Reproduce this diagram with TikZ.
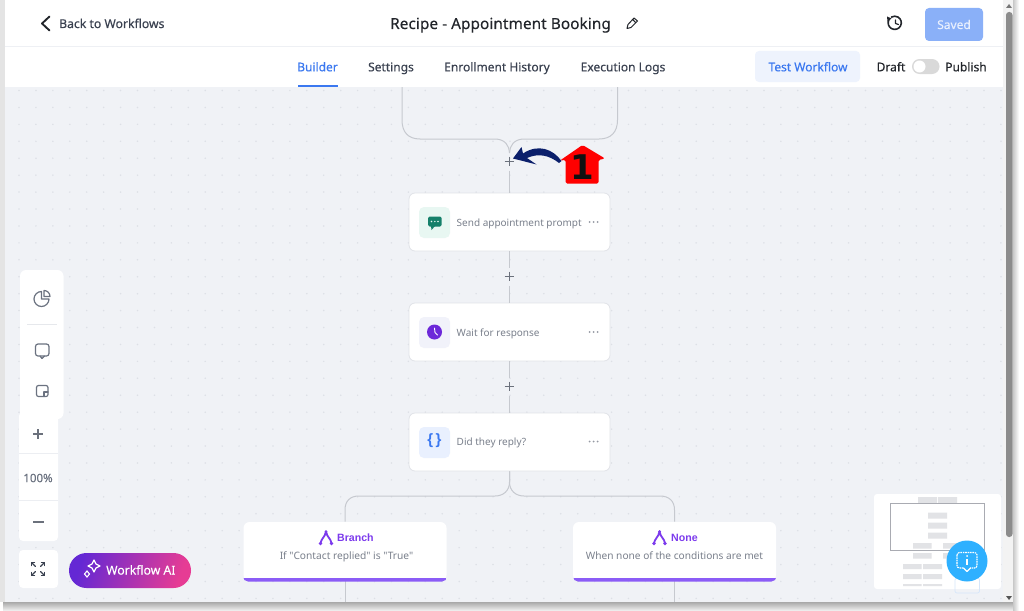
\documentclass[tikz,border=0pt]{standalone}
\usepackage{fontspec}
\setmainfont{Noto Sans}
\newfontfamily\medfont[FakeBold=0.25]{Noto Sans}
\newfontfamily\plainfont{Noto Sans}
\newfontfamily\boldtext{Liberation Sans}
\newfontfamily\bigdigit{DejaVu Sans}
\usetikzlibrary{calc}
\newcommand{\hx}[1]{\definecolor{#1}{HTML}{#1}}
\hx{E4E4E4}\hx{A9A9A9}\hx{ECECEC}\hx{C8C8C8}\hx{EEF0F4}\hx{F3F3F3}\hx{8C8C8C}\hx{777777}\hx{555555}
\hx{8AB0F8}\hx{EEF3FD}\hx{D9D9D9}\hx{E8F7F2}\hx{15806A}\hx{F1F2FA}\hx{6D28D9}\hx{E9F0FE}\hx{8B5CF6}
\hx{ECEEF2}\hx{E6E8EC}\hx{6428D4}\hx{E63C94}\hx{A9ABB2}\hx{D6E6FA}\hx{2EB0FF}\hx{E1E3E8}\hx{111111}
\definecolor{canvas}{HTML}{F0F2F6}
\definecolor{griddot}{HTML}{DDE0E6}
\definecolor{wire}{HTML}{C6C9CF}
\definecolor{ink}{HTML}{22252B}
\definecolor{tabink}{HTML}{3A4150}
\definecolor{muted}{HTML}{7A808C}
\definecolor{blueink}{HTML}{3B78F0}
\definecolor{purp}{HTML}{7C3AED}
\definecolor{navy}{HTML}{0B1F6B}
\definecolor{iconink}{HTML}{6B7280}
\definecolor{barfill}{HTML}{E2E3E6}
\tikzset{
  x=1pt,y=-1pt,
  panel/.style={draw=none,fill=white,rounded corners=4pt},
  card/.style={draw=#1,line width=.8pt,fill=white,rounded corners=6pt,minimum width=201pt,minimum height=58pt,inner sep=0pt},
  card/.default={E1E3E8},
  wireline/.style={draw=wire,line width=1pt},
  plusmark/.style={draw=tabink!75,line width=1.1pt},
  cardtext/.style={font=\fontsize{10}{11}\selectfont,text=muted,anchor=base west,inner sep=0pt},
  subtext/.style={font=\fontsize{10.15}{11}\selectfont,text=muted,anchor=base,inner sep=0pt},
  headtext/.style={font=\boldtext\bfseries\fontsize{10.6}{12}\selectfont,text=purp,anchor=base west,inner sep=0pt},
  tabtext/.style={font=\medfont\fontsize{12}{14}\selectfont,text=tabink,anchor=base,inner sep=0pt},
  dotsmenu/.style={fill=muted!80,draw=none},
  mini/.style={fill=barfill,draw=none},
  toolicon/.style={draw=iconink,line width=1.2pt,fill=none,line join=round,line cap=round},
}
\newcommand{\plusat}[2]{\draw[plusmark] (#1-4.8,#2)--(#1+4.8,#2) (#1,#2-4.8)--(#1,#2+4.8);}
\newcommand{\menuat}[2]{\fill[dotsmenu] (#1-4,#2) circle (1pt) (#1,#2) circle (1pt) (#1+4,#2) circle (1pt);}
\newcommand{\forkat}[2]{%
  \draw[purp,line width=1.8pt,line cap=round] (#1,#2-6) .. controls (#1-1,#2) and (#1-5,#2+1) .. (#1-5.5,#2+6)
     (#1,#2-6) .. controls (#1+1,#2) and (#1+5,#2+1) .. (#1+5.5,#2+6);
  \fill[purp] (#1,#2-6) circle (1.5pt) (#1-5.5,#2+6) circle (1.8pt) (#1+5.5,#2+6) circle (1.8pt);}
\begin{document}
\begin{tikzpicture}
\useasboundingbox (0,0) rectangle (1024,610);
% page and window shadow
\fill[white] (0,0) rectangle (1024,610);
\fill[E4E4E4] (0,0) rectangle (5,602) ;
\shade[top color=A9A9A9,bottom color=ECECEC] (3,602) rectangle (1016,610);
\shade[left color=C8C8C8,right color=white] (1013,0) rectangle (1019,610);
\fill[white] (5,0) rectangle (1003,87);
\fill[canvas] (5,87) rectangle (1003,602);
% dotted grid
\begin{scope}
\clip (5,87) rectangle (1003,602);
\foreach \i in {0,...,58}{\foreach \j in {0,...,30}{
  \fill[griddot] ({19+16.93*\i},{90.5+16.93*\j}) circle (.85pt);}}
\end{scope}
% scrollbar
\fill[F3F3F3] (1003,0) rectangle (1013,602);
\fill[8C8C8C,rounded corners=3pt] (1006,12) rectangle (1012.5,537);
\fill[777777] (1009,4)--(1012,8)--(1006,8)--cycle;
\fill[555555] (1006,596)--(1012,596)--(1009,600)--cycle;
% header
\draw[EEF0F4,line width=.8pt] (5,46.5)--(1003,46.5);
\draw[ink,line width=1.9pt,line cap=round,line join=round] (49.5,16.5)--(42,23.5)--(49.5,30.5);
\node[anchor=base west,inner sep=0pt,text=tabink,font=\medfont\fontsize{12.2}{14}\selectfont] (back) at (59,28) {Back to Workflows};
\node[anchor=base,inner sep=0pt,text=ink,font=\medfont\fontsize{15.3}{18}\selectfont\addfontfeatures{LetterSpace=0.6}] (title) at (500.5,29) {Recipe - Appointment Booking};
\draw[ink,line width=1pt,line join=round] (627,28.5)--(628,24.5)--(634,18)--(637.5,21)--(631,27.5)--cycle (632.5,19.5)--(636,22.8);
\draw[ink,line width=1.6pt,line cap=round] (889,19.5) arc[start angle=210,end angle=-120,radius=6.6];
\draw[ink,line width=1.2pt,line cap=round,line join=round] (895.5,20)--(895.5,23.5)--(898.5,24.5);
\fill[ink] (887,16.5)--(891.5,18.5)--(887.5,21.5)--cycle;
\node[panel,fill=8AB0F8,minimum width=58pt,minimum height=33pt,inner sep=0pt,text=white!80!8AB0F8,font=\medfont\fontsize{12}{14}\selectfont] (saved) at (954,24.5) {Saved};
% tabs
\node[tabtext,text=blueink] (tabBuilder) at (317.5,71.3) {Builder};
\fill[blueink] (298,85) rectangle (337.5,87);
\node[tabtext] (tabSettings) at (391,71.3) {Settings};
\node[tabtext] (tabHistory) at (497,71.3) {Enrollment History};
\node[tabtext] (tabLogs) at (623,71.3) {Execution Logs};
\fill[EEF3FD,rounded corners=4pt] (755,51) rectangle (860,82);
\node[tabtext,text=blueink] (test) at (808,71.3) {Test Workflow};
\node[tabtext,text=ink] (draft) at (891,71.3) {Draft};
\fill[D9D9D9,rounded corners=7.5pt] (912,59) rectangle (939.5,74);
\fill[white] (919.5,66.5) circle (6pt);
\node[tabtext,text=ink] (publish) at (966,71.3) {Publish};
% flow nodes
\node[card] (c1) at (509.5,222) {};
\node[card] (c2) at (509.5,332) {};
\node[card] (c3) at (509.5,442) {};
\node[card,minimum width=203pt,minimum height=59pt,draw=none] (b1) at (345,551.5) {};
\node[card,minimum width=203pt,minimum height=59pt,draw=none] (b2) at (674.5,551.5) {};
\coordinate (p0) at (509.5,161.5);
\coordinate (p1) at (509.5,276.5);
\coordinate (p2) at (509.5,386.5);
\coordinate (topL) at (402,87);
\coordinate (topR) at (617.5,87);
\coordinate (endL) at (345,602);
\coordinate (endR) at (674.5,602);
% connectors
\draw[wireline] (topL) -- (402,120) .. controls (402,132) and (408,139) .. (420,139) -- (495,139) .. controls (505,139) and (509.5,146) .. (509.5,153);
\draw[wireline] (topR) -- (617.5,120) .. controls (617.5,132) and (611,139) .. (599,139) -- (524,139) .. controls (514,139) and (509.5,146) .. (509.5,153);
\draw[wireline] ($(p0)+(0,9)$) -- (c1.north);
\draw[wireline] (c1.south) -- ($(p1)+(0,-9)$);
\draw[wireline] ($(p1)+(0,9)$) -- (c2.north);
\draw[wireline] (c2.south) -- ($(p2)+(0,-9)$);
\draw[wireline] ($(p2)+(0,9)$) -- (c3.north);
\draw[wireline] (c3.south) -- (509.5,482) .. controls (509.5,491) and (503,496) .. (495,496) -- (359,496) .. controls (350,496) and (345,501) .. (345,510) -- (b1.north);
\draw[wireline] (c3.south) -- (509.5,482) .. controls (509.5,491) and (516,496) .. (524,496) -- (660,496) .. controls (669,496) and (674.5,501) .. (674.5,510) -- (b2.north);
\draw[wireline] (b1.south) -- (endL);
\draw[wireline] (b2.south) -- (endR);
\plusat{509.5}{161.5}
\plusat{509.5}{276.5}
\plusat{509.5}{386.5}
% card 1
\fill[E8F7F2,rounded corners=5pt] (419,207) rectangle (450,238);
\fill[15806A,rounded corners=1.5pt] (428,216.5) rectangle (441.5,226.5);
\fill[15806A] (431,226)--(435,226)--(431.5,230)--cycle;
\fill[E8F7F2] (431.5,221.5) circle (.8pt) (434.8,221.5) circle (.8pt) (438,221.5) circle (.8pt);
\node[cardtext] (t1) at (456.5,226) {Send appointment prompt};
\menuat{593.5}{222}
% card 2
\fill[F1F2FA,rounded corners=5pt] (419,317) rectangle (450,348);
\fill[6D28D9] (434.5,332) circle (7.5pt);
\draw[white,line width=.9pt,line cap=round] (434.5,328)--(435,332.5)--(437.5,335);
\node[cardtext] (t2) at (456.5,336) {Wait for response};
\menuat{593.5}{332}
% card 3
\fill[E9F0FE,rounded corners=5pt] (419,427) rectangle (450,458);
\node[inner sep=0pt,text=blueink,font=\boldtext\bfseries\fontsize{15}{15}\selectfont] (brace) at (434.5,441) {\{\,\}};
\node[cardtext] (t3) at (456.5,445.5) {Did they reply?};
\menuat{593.5}{441.5}
% branch cards
\begin{scope}
\clip[rounded corners=5pt] (243,522) rectangle (447,581.5);
\fill[8B5CF6] (243,577.5) rectangle (447,581.5);
\end{scope}
\begin{scope}
\clip[rounded corners=5pt] (573,522) rectangle (776.5,581.5);
\fill[8B5CF6] (573,577.5) rectangle (776.5,581.5);
\end{scope}
\forkat{326}{537.5}
\node[headtext] (bt) at (337,541.7) {Branch};
\node[subtext,font=\plainfont\fontsize{10.2}{11}\selectfont] (bs) at (346.5,559.5) {If "Contact replied" is "True"};
\forkat{659.5}{537.5}
\node[headtext] (nt) at (671,541.7) {None};
\node[subtext] (ns) at (674.5,559.5) {When none of the conditions are met};
% annotation
\fill[navy] (561.5,161) .. controls (553,149) and (538,143.5) .. (523,153.5) -- (521.5,147) -- (513,158.5) -- (536.5,164.5) -- (527,158) .. controls (538,153) and (549,155) .. (559,163) -- cycle;
\fill[red,rounded corners=1.5pt] (582.5,145) -- (605,158.5) -- (598.5,160) -- (598.5,183.5) -- (565.7,183.5) -- (565.7,160) -- (560,160.5) -- cycle;
\node[inner sep=0pt,text=111111,font=\bigdigit\bfseries\fontsize{34}{34}\selectfont] (one) at (582,167.5) {1};
% left toolbars
\fill[white,rounded corners=4pt] (19,412) rectangle (58,541);
\draw[ECEEF2,line width=.8pt] (19,453)--(58,453) (19,500)--(58,500);
\fill[white,rounded corners=6pt] (20,270) rectangle (63.5,419);
\draw[E6E8EC,line width=.8pt] (27,324)--(57,324);
\draw[toolicon] (49,299) arc[start angle=0,end angle=270,radius=7.5] -- (41.5,299) -- cycle;
\draw[toolicon] (44,290.5) arc[start angle=270,end angle=360,radius=6] -- (44,296.5) -- cycle;
\draw[toolicon,rounded corners=2.5pt] (35.5,344) rectangle (49,356);
\draw[toolicon] (40,356)--(42,358.5)--(44.5,356);
\draw[toolicon,rounded corners=2pt] (36.5,385.5) rectangle (48,396.5);
\draw[toolicon] (48,392)--(44,392)--(44,396.5);
\plusat{38}{434}
\node[inner sep=0pt,text=iconink,font=\medfont\fontsize{11.5}{14}\selectfont] (zoomlevel) at (38,478) {100\%};
\draw[plusmark,line width=1.3pt] (33,522)--(44,522);
\fill[white,rounded corners=4pt] (19,550) rectangle (58,588);
\foreach \sx/\sy in {1/1,-1/1,1/-1,-1/-1}{
  \draw[tabink,line width=1.3pt,line cap=round,line join=round] (38+\sx*2.5,569+\sy*2.5)--(38+\sx*6.5,569+\sy*6.5);
  \draw[tabink,line width=1.3pt,line cap=round,line join=round] (38+\sx*3.5,569+\sy*6.5)--(38+\sx*6.5,569+\sy*6.5)--(38+\sx*6.5,569+\sy*3.5);
}
% workflow AI button
\shade[rounded corners=17.5pt,left color=6428D4,right color=E63C94,shading angle=70] (69,553) rectangle (191,588);
\node[anchor=base west,inner sep=0pt,text=white,font=\medfont\fontsize{12.2}{14}\selectfont] (wf) at (106,574.5) {Workflow AI};
\draw[white,line width=1.2pt,line join=round] (94,560)--(96,564)--(100,566)--(96,568)--(94,572)--(92,568)--(88,566)--(92,564)--cycle;
\draw[white,line width=1.1pt] (87,571)--(89.5,574)--(87,577)--(84.5,574)--cycle;
% minimap
\fill[white,rounded corners=3pt] (874,494) rectangle (1001,589);
\fill[mini] (918,497) rectangle (937,503) (938,497) rectangle (957,503);
\draw[A9ABB2,line width=.8pt,fill=white] (890.5,503) rectangle (984,550.5);
\fill[mini] (928,512.5) rectangle (947,518.5) (928,522.5) rectangle (947,528.5) (928,532.5) rectangle (947,538.5);
\fill[mini] (913,543) rectangle (931.5,548.5) (943,543) rectangle (961,548.5);
\fill[mini] (913,553) rectangle (931.5,558.5) (943,553) rectangle (961,558.5);
\fill[mini] (903,564) rectangle (921.5,569) (923,564) rectangle (942,569);
\fill[mini] (903,574) rectangle (921.5,579) (923,574) rectangle (942,579);
\fill[mini] (903,584) rectangle (921.5,586) (923,584) rectangle (942,586);
\draw[D6E6FA,line width=.7pt,rounded corners=2pt] (955,578) rectangle (979.5,593);
% help bubble
\fill[2EB0FF] (967,561) circle (20.5pt);
\draw[white,line width=1.1pt,dash pattern=on 1.6pt off .8pt,rounded corners=2.5pt] (957,552.5) rectangle (977,568);
\fill[2EB0FF] (964,567) rectangle (970,569.5);
\draw[white,line width=1.1pt,line join=round] (963.5,568)--(967,571.5)--(970.5,568);
\fill[white] (967,556) circle (1pt);
\draw[white,line width=1.4pt] (967,559)--(967,565);
\end{tikzpicture}
\end{document}
